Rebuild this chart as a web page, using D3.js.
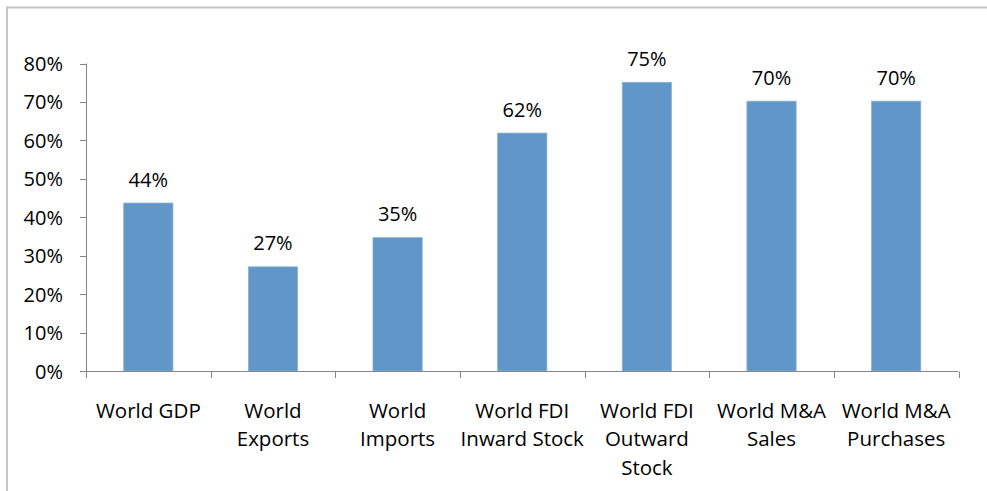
<!DOCTYPE html>
<html><head><meta charset="utf-8">
<script src="https://cdn.jsdelivr.net/npm/d3@7"></script>
<style>body{margin:0;background:#fff}svg{display:block}</style>
</head><body>
<svg id="c" width="987" height="491"></svg>
<script>
const categories = [["World GDP"],["World","Exports"],["World","Imports"],["World FDI","Inward Stock"],["World FDI","Outward","Stock"],["World M&A","Sales"],["World M&A","Purchases"]];
const values = [0.437, 0.271, 0.347, 0.619, 0.751, 0.702, 0.702];
const valueLabels = ["44%","27%","35%","62%","75%","70%","70%"];
const yTicks = [0,0.1,0.2,0.3,0.4,0.5,0.6,0.7,0.8];

const svg = d3.select("#c");
const font = "'Open Sans', sans-serif";
// border (top and left only)
svg.append("line").attr("x1",6).attr("x2",987).attr("y1",7.5).attr("y2",7.5).attr("stroke","#c6c6c6").attr("stroke-width",2);
svg.append("line").attr("x1",7).attr("x2",7).attr("y1",6.5).attr("y2",491).attr("stroke","#c6c6c6").attr("stroke-width",2);

const x = d3.scaleBand().domain(d3.range(categories.length)).range([86, 958.5]).paddingInner(0).paddingOuter(0);
const y = d3.scaleLinear().domain([0,0.8]).range([371, 63.5]);

const bw = x.bandwidth()*0.395;
svg.selectAll("rect.bar").data(values).join("rect").attr("class","bar")
  .attr("x",(d,i)=>x(i)+x.bandwidth()/2-bw/2).attr("width",bw)
  .attr("y",d=>y(d)).attr("height",d=>y(0)-y(d))
  .attr("fill","#6096c8").attr("stroke","#8cb2da").attr("stroke-width",0.8);

svg.selectAll("text.val").data(values).join("text").attr("class","val")
  .attr("x",(d,i)=>x(i)+x.bandwidth()/2).attr("y",d=>y(d)-16.5)
  .attr("text-anchor","middle").attr("font-family",font).attr("font-size",20).attr("fill","#000")
  .text((d,i)=>valueLabels[i]);

// y axis
const ya = svg.append("g");
ya.append("line").attr("x1",86.5).attr("x2",86.5).attr("y1",y(0.8)).attr("y2",y(0)).attr("stroke","#868686").attr("stroke-width",1);
ya.selectAll("line.t").data(yTicks).join("line").attr("class","t")
  .attr("x1",80).attr("x2",86.5).attr("y1",d=>Math.round(y(d))+0.5).attr("y2",d=>Math.round(y(d))+0.5).attr("stroke","#868686");
ya.selectAll("text").data(yTicks).join("text")
  .attr("x",63).attr("y",d=>y(d)+7.5).attr("text-anchor","end")
  .attr("font-family",font).attr("font-size",20).attr("fill","#000")
  .text(d=>d3.format(".0%")(d));

// x axis
const xa = svg.append("g");
xa.append("line").attr("x1",86).attr("x2",958.5).attr("y1",371.5).attr("y2",371.5).attr("stroke","#868686");
xa.selectAll("line.t").data(d3.range(categories.length+1)).join("line").attr("class","t")
  .attr("x1",i=>Math.round(i<categories.length?x(i):x(categories.length-1)+x.bandwidth())+0.5)
  .attr("x2",i=>Math.round(i<categories.length?x(i):x(categories.length-1)+x.bandwidth())+0.5)
  .attr("y1",371.5).attr("y2",378).attr("stroke","#868686");
const lab = xa.selectAll("text").data(categories).join("text")
  .attr("text-anchor","middle").attr("font-family",font).attr("font-size",20.5).attr("fill","#000");
lab.each(function(lines,i){
  const t = d3.select(this);
  lines.forEach((l,k)=>t.append("tspan").attr("x",x(i)+x.bandwidth()/2).attr("y",417.5+k*28.5).text(l));
});
</script>
</body></html>
